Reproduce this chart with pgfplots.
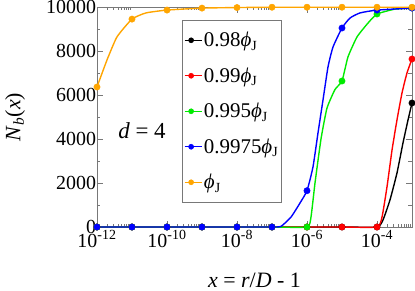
\documentclass[border=0pt]{standalone}
\usepackage{fontspec}
\setmainfont{Liberation Serif}
\usepackage{pgfplots}
\pgfplotsset{compat=1.18}
\definecolor{cblack}{RGB}{0,0,0}
\definecolor{cred}{RGB}{255,0,0}
\definecolor{cgreen}{RGB}{0,235,0}
\definecolor{cblue}{RGB}{0,0,255}
\definecolor{corange}{RGB}{255,165,0}
\definecolor{axgray}{RGB}{120,120,120}
\newcommand{\phiJ}{\textit{ϕ}\raisebox{-0.35ex}{\fontsize{14}{14}\selectfont J}}
\begin{document}
\begin{tikzpicture}
\begin{axis}[
  name=ax,
  scale only axis,
  width=315bp, height=220bp,
  xmode=log,
  xmin=1e-12, xmax=1e-3,
  ymin=0, ymax=10000,
  clip=false,
  axis line style={axgray, line width=0.8pt},
  every tick/.style={axgray, line width=0.6pt},
  major tick length=6bp,
  minor tick length=3.5bp,
  xtick={1e-12,1e-10,1e-8,1e-6,1e-4},
  xticklabels={10\textsuperscript{-12},10\textsuperscript{-10},10\textsuperscript{-8},10\textsuperscript{-6},10\textsuperscript{-4}},
  minor xtick={2e-12,3e-12,4e-12,5e-12,6e-12,7e-12,8e-12,9e-12,
               2e-10,3e-10,4e-10,5e-10,6e-10,7e-10,8e-10,9e-10,
               2e-8,3e-8,4e-8,5e-8,6e-8,7e-8,8e-8,9e-8,
               2e-6,3e-6,4e-6,5e-6,6e-6,7e-6,8e-6,9e-6,
               2e-4,3e-4,4e-4,5e-4,6e-4,7e-4,8e-4,9e-4},
  ytick={0,2000,4000,6000,8000,10000},
  yticklabels={0,2000,4000,6000,8000,10000},
  minor y tick num=1,
  tick label style={font=\fontsize{20}{20}\selectfont},
  yticklabel style={xshift=2.5bp},
  scaled y ticks=false,
  xlabel={\textit{x} = \textit{r}/\textit{D} - 1},
  ylabel={\textit{N}\textsubscript{\textit{b}}(\textit{x})},
  label style={font=\fontsize{22}{22}\selectfont},
  xlabel style={at={(axis description cs:0.5,-0.275)}, anchor=base},
  ylabel style={at={(axis description cs:-0.26,0.5)}, anchor=center},
  legend style={at={(axis description cs:0.27,0.941)}, anchor=north west,
     draw=axgray, fill=white, line width=0.6pt,
     font=\fontsize{21}{21}\selectfont, row sep=15.5bp,
     inner xsep=2bp, inner ysep=10bp},
  legend cell align=left,
  legend image code/.code={\path (0,0) -- (17bp,0); \fill (6.5bp,0) circle (2.5bp);},
]
% black 0.98
\addplot[cblack, line width=1.4pt, smooth, tension=0.3, forget plot] coordinates {
 (1e-12,0) (1e-11,0) (1e-10,0) (1e-9,0) (1e-8,0) (1e-7,0) (1e-6,0) (1e-5,0) (1e-4,0)
 (1.483e-4,320) (2.35e-4,1230) (3.72e-4,2450) (5.53e-4,3820) (7.69e-4,4860) (1e-3,5636)};
\addplot[cblack, only marks, mark=*, mark size=3.2bp] coordinates {
 (1e-12,0) (1e-11,0) (1e-10,0) (1e-9,0) (1e-8,0) (1e-7,0) (1e-6,0) (1e-5,0) (1e-4,0) (1e-3,5636)};
\addlegendentry{0.98\phiJ}
% red 0.99
\addplot[cred, line width=1.4pt, smooth, tension=0.3, forget plot] coordinates {
 (1e-12,0) (1e-11,0) (1e-10,0) (1e-9,0) (1e-8,0) (1e-7,0) (1e-6,0) (1e-5,0) (1e-4,0)
 (1.39e-4,450) (1.93e-4,1820) (2.69e-4,3500) (3.72e-4,4860) (5.18e-4,6090) (7.19e-4,7000) (1e-3,7636)};
\addplot[cred, only marks, mark=*, mark size=3.2bp] coordinates {
 (1e-12,0) (1e-11,0) (1e-10,0) (1e-9,0) (1e-8,0) (1e-7,0) (1e-6,0) (1e-5,0) (1e-4,0) (1e-3,7636)};
\addlegendentry{0.99\phiJ}
% green 0.995
\addplot[cgreen, line width=1.4pt, smooth, tension=0.3, forget plot] coordinates {
 (1e-12,0) (1e-11,0) (1e-10,0) (1e-9,0) (1e-8,0) (1e-7,0) (1e-6,0)
 (1.3e-6,450) (1.694e-6,2000) (2.512e-6,4000) (3.72e-6,5400) (6.31e-6,6250) (1e-5,6636)
 (1.483e-5,7730) (2.69e-5,8640) (5.53e-5,9270) (1e-4,9680) (3.16e-4,9900) (1e-3,9960)};
\addplot[cgreen, only marks, mark=*, mark size=3.2bp] coordinates {
 (1e-12,0) (1e-11,0) (1e-10,0) (1e-9,0) (1e-8,0) (1e-7,0) (1e-6,0) (1e-5,6636) (1e-4,9680) (1e-3,9960)};
\addlegendentry{0.995\phiJ}
% blue 0.9975
\addplot[cblue, line width=1.4pt, smooth, tension=0.3, forget plot] coordinates {
 (1e-12,0) (1e-11,0) (1e-10,0) (1e-9,0) (1e-8,0) (1e-7,0)
 (1.807e-7,30) (3.49e-7,450) (6.31e-7,1090) (1e-6,1650)
 (1.483e-6,2730) (2.06e-6,4270) (2.864e-6,5770) (3.98e-6,7270) (5.53e-6,8180) (1e-5,9045)
 (1.694e-5,9500) (3.27e-5,9730) (1e-4,9860) (1e-3,9950)};
\addplot[cblue, only marks, mark=*, mark size=3.2bp] coordinates {
 (1e-12,0) (1e-11,0) (1e-10,0) (1e-9,0) (1e-8,0) (1e-7,0) (1e-6,1650) (1e-5,9045) (1e-4,9860) (1e-3,9950)};
\addlegendentry{0.9975\phiJ}
% orange phi_J
\addplot[corange, line width=1.4pt, smooth, tension=0.3, forget plot] coordinates {
 (1e-12,6364) (1.93e-12,7590) (3.72e-12,8640) (1e-11,9450) (2.5e-11,9730) (1e-10,9860)
 (1e-9,9950) (1e-8,9975) (1e-7,9990) (1e-6,9990) (1e-5,9990) (1e-4,9990) (1e-3,9990)};
\addplot[corange, only marks, mark=*, mark size=3.2bp] coordinates {
 (1e-12,6364) (1e-11,9450) (1e-10,9860) (1e-9,9950) (1e-8,9975) (1e-7,9990) (1e-6,9990) (1e-5,9990) (1e-4,9990) (1e-3,9990)};
\addlegendentry{\phiJ}
\node[font=\fontsize{23}{23}\selectfont] at (axis description cs:0.143,0.436) {\textit{d} = 4};
\end{axis}
\pgfresetboundingbox
\path[use as bounding box] ([xshift=-97bp,yshift=-64bp]ax.south west) rectangle ([xshift=3bp,yshift=7bp]ax.north east);
\end{tikzpicture}
\end{document}
